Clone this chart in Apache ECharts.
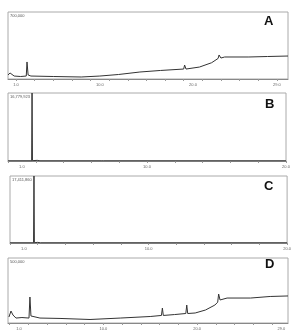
<!DOCTYPE html>
<html>
<head>
<meta charset="utf-8">
<script src="https://cdn.jsdelivr.net/npm/echarts@6/dist/echarts.min.js"></script>
<style>
  html, body { margin: 0; padding: 0; background: #fff; }
  #chart { width: 294px; height: 333px; }
</style>
</head>
<body>
<div id="chart"></div>
<script>
// retention time (min) / intensity pairs
const traceA = [
  [0.14, 42000], [0.36, 63000], [0.8, 31000], [1.5, 26000], [2.1, 31000],
  [2.18, 178000], [2.3, 42000], [2.6, 31000], [5.0, 26000], [8.0, 21000],
  [10.0, 31000], [12.0, 47000], [14.3, 73000], [16.5, 89000], [19.0, 104000],
  [19.1, 146000], [19.25, 104000], [20.7, 125000], [22.0, 170000], [22.7, 215000],
  [22.8, 251000], [23.0, 219000], [23.4, 230000], [26.0, 230000], [28.0, 235000],
  [30.2, 240000]
];
const traceB = [
  [0.0, 50000], [1.70, 50000], [1.73, 16779923], [1.76, 80000], [2.1, 160000],
  [2.3, 50000], [6.7, 50000], [6.76, 200000], [6.85, 50000], [20.0, 50000]
];
const traceC = [
  [0.0, 50000], [1.70, 50000], [1.73, 17411860], [1.76, 80000], [2.0, 170000],
  [2.2, 50000], [20.0, 50000]
];
const traceD = [
  [-0.07, 46000], [0.15, 92000], [0.36, 61500], [0.68, 38000], [1.32, 42000],
  [2.07, 38000], [2.17, 200000], [2.28, 54000], [3.24, 38000], [5.38, 35000],
  [8.58, 27000], [11.8, 38000], [15.0, 50000], [16.2, 58000], [16.3, 115000],
  [16.4, 58000], [17.6, 65000], [18.8, 73000], [18.9, 138000], [19.0, 73000],
  [19.8, 77000], [20.9, 100000], [21.9, 138000], [22.2, 160000], [22.3, 223000],
  [22.45, 177000], [23.2, 192000], [25.7, 192000], [27.8, 204000], [29.7, 208000]
];
const fullScale = [700000, 16779923, 17411860, 500000];
const scaleText = ['700,000', '16,779,923', '17,411,860', '500,000'];
const panelNames = ['A', 'B', 'C', 'D'];
const tickLabelsLong = [1, 10, 20, 29];
const tickLabelsShort = [1, 10, 20];

const traces = [traceA, traceB, traceC, traceD];
const ranges = [[0.14, 30.2], [0, 20], [0, 20], [-0.17, 29.7]];
const grids = [
  { left: 8, top: 12, width: 280, height: 67 },
  { left: 8, top: 93, width: 278, height: 68 },
  { left: 10, top: 176, width: 278, height: 67 },
  { left: 8, top: 258, width: 280, height: 65 }
];
const letterPos = [[264, 15], [265, 98], [264, 180], [265, 258]];

function ticksFor(r) {
  const out = [];
  for (let v = Math.ceil(r[0]); v <= r[1]; v += 2) out.push(v);
  return out;
}

const chart = echarts.init(document.getElementById('chart'));
chart.setOption({
  animation: false,
  title: panelNames.flatMap((n, i) => [
    {
      text: n, left: letterPos[i][0], top: letterPos[i][1], padding: 0,
      textStyle: { fontFamily: 'Liberation Sans', fontWeight: 'bold', fontSize: 13, color: '#111' }
    },
    {
      text: scaleText[i], left: grids[i].left + 2, top: grids[i].top + 2, padding: 0,
      textStyle: { fontFamily: 'Liberation Sans', fontWeight: 'normal', fontSize: 4, color: '#555' }
    }
  ]),
  grid: grids.map(g => Object.assign({ show: true, borderColor: '#aaa', borderWidth: 1 }, g)),
  xAxis: grids.map((g, i) => ({
    type: 'value', gridIndex: i, min: ranges[i][0], max: ranges[i][1],
    axisLine: { show: true, lineStyle: { color: '#888', width: 1 } },
    axisTick: { show: true, length: 2, customValues: ticksFor(ranges[i]), lineStyle: { color: '#999' } },
    splitLine: { show: false },
    axisLabel: {
      customValues: (i === 1 || i === 2) ? tickLabelsShort : tickLabelsLong,
      formatter: v => v.toFixed(1), fontSize: 4, color: '#666', margin: 4,
      fontFamily: 'Liberation Sans', showMinLabel: true, showMaxLabel: true
    }
  })),
  yAxis: grids.map((g, i) => ({
    type: 'value', gridIndex: i, min: 0, max: fullScale[i], show: false
  })),
  series: traces.map((d, i) => ({
    type: 'line', xAxisIndex: i, yAxisIndex: i, data: d, showSymbol: false,
    lineStyle: { color: '#333', width: 1 }
  }))
});
</script>
</body>
</html>
